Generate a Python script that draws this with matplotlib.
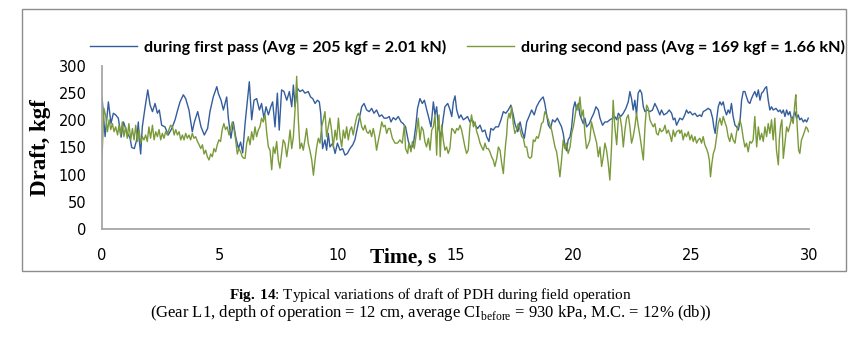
import matplotlib
matplotlib.use("Agg")
import matplotlib.pyplot as plt
from matplotlib.patches import Rectangle

# draft (kgf) vs time (s)
first_pass = [
    (0, 243), (0.13, 170), (0.27, 234), (0.38, 194), (0.48, 213), (0.58, 210), (0.69, 204), (0.76, 185),
    (0.81, 169), (0.91, 197), (1.05, 179), (1.19, 167), (1.26, 150), (1.37, 148), (1.47, 164), (1.54, 197),
    (1.58, 164), (1.64, 138), (1.71, 188), (1.82, 222), (1.94, 256), (2.04, 228), (2.14, 216), (2.25, 231),
    (2.35, 213), (2.43, 219), (2.53, 191), (2.67, 188), (2.81, 173), (2.96, 185), (3.10, 201), (3.21, 219),
    (3.31, 234), (3.45, 247), (3.55, 240), (3.69, 219), (3.83, 179), (3.92, 197), (4.06, 216), (4.20, 188),
    (4.34, 173), (4.48, 185), (4.58, 216), (4.72, 243), (4.87, 262), (4.94, 249), (5.05, 237), (5.15, 219),
    (5.29, 243), (5.36, 204), (5.47, 167), (5.57, 197), (5.67, 170), (5.79, 148), (5.88, 160), (5.97, 140),
    (6.07, 194), (6.25, 271), (6.35, 201), (6.45, 237), (6.56, 240), (6.68, 219), (6.77, 231), (6.87, 204),
    (6.96, 225), (7.06, 210), (7.16, 225), (7.24, 234), (7.34, 188), (7.44, 250), (7.52, 182), (7.62, 256),
    (7.72, 253), (7.84, 237), (7.95, 253), (8.05, 225), (8.12, 265), (8.19, 225), (8.29, 259), (8.40, 253),
    (8.51, 256), (8.61, 250), (8.75, 253), (8.85, 243), (8.94, 240), (9.04, 231), (9.14, 237), (9.22, 234),
    (9.28, 213), (9.36, 148), (9.46, 164), (9.53, 145), (9.60, 176), (9.67, 151), (9.79, 158), (9.89, 139),
    (9.99, 158), (10.10, 145), (10.21, 148), (10.31, 136), (10.41, 139), (10.52, 148), (10.64, 155),
    (10.73, 164), (10.83, 185), (10.92, 204), (11.02, 225), (11.12, 231), (11.23, 219), (11.34, 216),
    (11.44, 222), (11.54, 213), (11.65, 219), (11.77, 207), (11.87, 210), (11.97, 204), (12.08, 204),
    (12.19, 207), (12.26, 197), (12.36, 205), (12.46, 201), (12.57, 207), (12.69, 197), (12.78, 194),
    (12.88, 188), (13.00, 161), (13.11, 148), (13.21, 155), (13.31, 188), (13.39, 222), (13.49, 240),
    (13.59, 231), (13.68, 237), (13.78, 219), (13.87, 204), (13.96, 188), (14.06, 234), (14.13, 210),
    (14.20, 225), (14.27, 188), (14.38, 170), (14.48, 204), (14.55, 225), (14.67, 231), (14.77, 219),
    (14.84, 207), (14.91, 234), (14.98, 245), (15.05, 219), (15.15, 204), (15.23, 210), (15.33, 201),
    (15.43, 204), (15.51, 207), (15.61, 197), (15.71, 201), (15.83, 191), (15.94, 185), (16.04, 191),
    (16.14, 179), (16.25, 182), (16.32, 170), (16.42, 161), (16.50, 185), (16.60, 182), (16.70, 188),
    (16.82, 188), (16.93, 201), (17.03, 216), (17.13, 213), (17.24, 219), (17.35, 228), (17.45, 210),
    (17.52, 194), (17.64, 179), (17.74, 197), (17.83, 179), (17.92, 167), (18.02, 197), (18.12, 207),
    (18.23, 219), (18.34, 210), (18.44, 225), (18.55, 234), (18.65, 240), (18.72, 243), (18.79, 231),
    (18.87, 210), (18.94, 191), (19.03, 185), (19.12, 201), (19.22, 197), (19.32, 204), (19.43, 194),
    (19.50, 188), (19.57, 176), (19.64, 155), (19.71, 144), (19.78, 164), (19.86, 170), (19.93, 188),
    (20.00, 222), (20.07, 234), (20.14, 219), (20.21, 231), (20.28, 210), (20.42, 194), (20.49, 204),
    (20.56, 188), (20.68, 194), (20.77, 204), (20.87, 213), (20.96, 225), (21.06, 219), (21.13, 204),
    (21.24, 191), (21.34, 197), (21.44, 197), (21.55, 201), (21.67, 204), (21.76, 207), (21.84, 201),
    (21.91, 213), (22.01, 207), (22.12, 213), (22.23, 222), (22.33, 234), (22.40, 253), (22.47, 240),
    (22.54, 219), (22.61, 237), (22.68, 210), (22.75, 250), (22.83, 256), (22.90, 250), (22.97, 225),
    (23.04, 216), (23.14, 219), (23.25, 216), (23.36, 219), (23.46, 231), (23.56, 222), (23.67, 210),
    (23.74, 219), (23.84, 210), (23.96, 213), (24.07, 219), (24.17, 213), (24.24, 201), (24.31, 204),
    (24.38, 191), (24.49, 201), (24.52, 204), (24.63, 201), (24.73, 210), (24.80, 219), (24.88, 213),
    (24.95, 216), (25.06, 210), (25.16, 213), (25.26, 207), (25.37, 210), (25.44, 207), (25.51, 216),
    (25.63, 219), (25.72, 222), (25.82, 219), (25.91, 204), (25.96, 188), (26.02, 176), (26.08, 201),
    (26.15, 225), (26.22, 234), (26.29, 228), (26.36, 234), (26.43, 219), (26.50, 210), (26.57, 219),
    (26.64, 213), (26.71, 231), (26.78, 207), (26.86, 191), (26.93, 188), (27.00, 182), (27.07, 197),
    (27.14, 237), (27.21, 253), (27.28, 253), (27.35, 243), (27.42, 234), (27.49, 231), (27.56, 240),
    (27.63, 247), (27.70, 253), (27.78, 243), (27.85, 256), (27.92, 237), (27.99, 250), (28.06, 253),
    (28.13, 259), (28.20, 262), (28.27, 237), (28.34, 219), (28.41, 225), (28.48, 219), (28.60, 222),
    (28.70, 216), (28.77, 219), (28.84, 213), (28.91, 219), (28.98, 207), (29.05, 219), (29.12, 210),
    (29.19, 216), (29.26, 201), (29.33, 207), (29.40, 216), (29.47, 204), (29.54, 210), (29.61, 201),
    (29.68, 204), (29.76, 197), (29.83, 201), (29.90, 197), (29.97, 204),
]

second_pass = [
    (0, 133), (0.08, 222), (0.16, 207), (0.23, 179), (0.30, 201), (0.37, 183), (0.44, 194), (0.51, 179),
    (0.58, 188), (0.66, 173), (0.72, 191), (0.79, 173), (0.86, 197), (0.93, 170), (1.00, 188), (1.07, 167),
    (1.14, 194), (1.22, 164), (1.29, 185), (1.36, 164), (1.43, 191), (1.50, 161), (1.57, 183), (1.64, 158),
    (1.71, 170), (1.78, 164), (1.85, 173), (1.92, 161), (1.99, 188), (2.06, 167), (2.14, 191), (2.21, 164),
    (2.28, 179), (2.35, 170), (2.42, 183), (2.49, 164), (2.56, 176), (2.63, 167), (2.70, 179), (2.77, 173),
    (2.84, 183), (2.91, 191), (2.99, 188), (3.06, 173), (3.13, 183), (3.20, 173), (3.27, 179), (3.34, 164),
    (3.41, 173), (3.48, 164), (3.55, 176), (3.62, 167), (3.69, 173), (3.76, 164), (3.83, 176), (3.90, 167),
    (3.97, 170), (4.05, 161), (4.12, 155), (4.19, 148), (4.26, 155), (4.33, 138), (4.40, 145), (4.47, 133),
    (4.54, 127), (4.61, 138), (4.68, 133), (4.75, 148), (4.82, 142), (4.89, 155), (4.96, 164), (5.03, 161),
    (5.10, 183), (5.17, 194), (5.24, 183), (5.31, 188), (5.39, 173), (5.46, 185), (5.53, 197), (5.60, 183),
    (5.67, 164), (5.74, 138), (5.81, 148), (5.88, 142), (5.95, 133), (6.02, 130), (6.07, 130), (6.14, 158),
    (6.21, 170), (6.28, 155), (6.35, 179), (6.42, 164), (6.49, 188), (6.56, 170), (6.63, 182), (6.70, 188),
    (6.77, 204), (6.84, 197), (6.92, 210), (6.99, 176), (7.06, 151), (7.13, 145), (7.20, 109), (7.27, 151),
    (7.34, 139), (7.41, 161), (7.48, 127), (7.55, 112), (7.62, 139), (7.69, 164), (7.76, 158), (7.84, 133),
    (7.91, 155), (7.98, 182), (8.05, 148), (8.12, 170), (8.19, 219), (8.26, 281), (8.33, 201), (8.40, 148),
    (8.47, 158), (8.54, 145), (8.61, 164), (8.68, 185), (8.75, 158), (8.82, 145), (8.90, 127), (8.97, 99),
    (9.04, 127), (9.11, 151), (9.18, 167), (9.25, 158), (9.32, 188), (9.39, 201), (9.46, 216), (9.53, 170),
    (9.60, 188), (9.67, 204), (9.74, 182), (9.81, 151), (9.89, 182), (9.96, 164), (10.03, 204), (10.10, 170),
    (10.17, 151), (10.24, 182), (10.31, 167), (10.38, 188), (10.45, 164), (10.52, 182), (10.59, 188),
    (10.66, 173), (10.73, 191), (10.81, 207), (10.88, 213), (10.95, 204), (11.02, 188), (11.09, 182),
    (11.16, 191), (11.23, 179), (11.30, 176), (11.37, 182), (11.44, 170), (11.51, 185), (11.58, 170),
    (11.65, 145), (11.73, 164), (11.80, 179), (11.87, 197), (11.94, 188), (12.01, 191), (12.08, 176),
    (12.15, 185), (12.22, 185), (12.32, 167), (12.43, 158), (12.54, 158), (12.64, 164), (12.74, 158),
    (12.83, 191), (12.88, 148), (12.97, 139), (13.02, 158), (13.11, 142), (13.17, 161), (13.25, 148),
    (13.35, 179), (13.42, 204), (13.49, 164), (13.56, 188), (13.63, 182), (13.70, 161), (13.77, 151),
    (13.85, 167), (13.92, 145), (13.99, 182), (14.06, 188), (14.13, 210), (14.20, 136), (14.24, 188),
    (14.30, 210), (14.35, 133), (14.41, 191), (14.48, 164), (14.55, 145), (14.62, 151), (14.69, 139),
    (14.76, 148), (14.84, 185), (14.91, 182), (14.98, 176), (15.05, 185), (15.12, 182), (15.19, 191),
    (15.26, 182), (15.33, 167), (15.40, 151), (15.47, 139), (15.54, 145), (15.61, 188), (15.68, 210),
    (15.76, 188), (15.83, 197), (15.90, 179), (15.97, 170), (16.04, 158), (16.11, 151), (16.18, 145),
    (16.25, 158), (16.32, 148), (16.39, 148), (16.46, 142), (16.53, 133), (16.60, 127), (16.67, 115),
    (16.75, 130), (16.82, 151), (16.89, 145), (16.96, 121), (17.03, 102), (17.07, 127), (17.13, 158),
    (17.17, 173), (17.21, 201), (17.27, 213), (17.32, 204), (17.38, 225), (17.45, 194), (17.52, 176),
    (17.59, 182), (17.66, 194), (17.74, 182), (17.81, 170), (17.88, 167), (17.95, 151), (18.02, 151),
    (18.09, 133), (18.16, 130), (18.23, 133), (18.30, 164), (18.37, 161), (18.44, 170), (18.51, 167),
    (18.58, 179), (18.65, 194), (18.72, 197), (18.79, 216), (18.86, 210), (18.94, 201), (19.01, 191),
    (19.08, 182), (19.15, 167), (19.22, 151), (19.29, 142), (19.36, 121), (19.43, 96), (19.50, 127),
    (19.57, 164), (19.64, 148), (19.71, 158), (19.78, 139), (19.86, 151), (19.93, 176), (20.00, 188),
    (20.07, 207), (20.14, 228), (20.21, 219), (20.28, 243), (20.35, 207), (20.42, 219), (20.49, 176),
    (20.56, 148), (20.63, 155), (20.70, 164), (20.77, 197), (20.85, 182), (20.92, 170), (20.99, 158),
    (21.06, 133), (21.13, 151), (21.20, 115), (21.27, 133), (21.34, 158), (21.41, 145), (21.48, 121),
    (21.55, 90), (21.62, 151), (21.69, 237), (21.76, 188), (21.84, 155), (21.91, 204), (21.98, 207),
    (22.05, 188), (22.12, 151), (22.19, 182), (22.26, 204), (22.33, 210), (22.40, 188), (22.47, 158),
    (22.54, 170), (22.61, 188), (22.68, 213), (22.75, 191), (22.83, 170), (22.90, 148), (22.97, 127),
    (23.04, 188), (23.11, 228), (23.18, 222), (23.25, 201), (23.32, 194), (23.39, 188), (23.46, 194),
    (23.53, 176), (23.60, 173), (23.67, 185), (23.74, 179), (23.82, 182), (23.89, 191), (23.96, 176),
    (24.03, 182), (24.10, 173), (24.17, 161), (24.24, 182), (24.31, 170), (24.38, 179), (24.49, 182),
    (24.52, 176), (24.59, 182), (24.66, 164), (24.73, 176), (24.80, 170), (24.88, 179), (24.95, 164),
    (25.02, 173), (25.09, 161), (25.16, 170), (25.23, 158), (25.30, 164), (25.37, 167), (25.44, 158),
    (25.51, 170), (25.58, 155), (25.65, 148), (25.72, 139), (25.77, 127), (25.82, 96), (25.88, 121),
    (25.94, 139), (26.01, 148), (26.08, 170), (26.15, 194), (26.22, 204), (26.29, 191), (26.36, 207),
    (26.43, 197), (26.50, 188), (26.57, 170), (26.64, 161), (26.71, 176), (26.78, 164), (26.86, 158),
    (26.93, 179), (27.00, 191), (27.07, 201), (27.14, 188), (27.21, 167), (27.28, 151), (27.35, 158),
    (27.42, 142), (27.49, 161), (27.56, 158), (27.63, 164), (27.70, 207), (27.78, 151), (27.85, 188),
    (27.92, 164), (27.99, 176), (28.06, 161), (28.13, 188), (28.20, 170), (28.27, 194), (28.34, 176),
    (28.41, 201), (28.48, 164), (28.55, 204), (28.62, 145), (28.70, 118), (28.74, 164), (28.79, 188),
    (28.85, 201), (28.91, 130), (28.98, 158), (29.05, 188), (29.12, 179), (29.19, 191), (29.26, 204),
    (29.33, 194), (29.40, 231), (29.44, 247), (29.50, 188), (29.56, 145), (29.61, 139), (29.68, 164),
    (29.76, 173), (29.83, 182), (29.87, 188), (29.93, 185), (29.98, 179),
]

labels = ["during first pass (Avg = 205 kgf = 2.01 kN)",
          "during second pass (Avg = 169 kgf = 1.66 kN)"]
x_ticks = [0, 5, 10, 15, 20, 25, 30]
y_ticks = [0, 50, 100, 150, 200, 250, 300]

plt.rcParams["mathtext.fontset"] = "custom"
plt.rcParams["mathtext.rm"] = "Liberation Serif"
plt.rcParams["mathtext.bf"] = "Liberation Serif:bold"


def plot_graph():
    fig = plt.figure(figsize=(8.61, 3.43), dpi=100)
    fig.patches.append(Rectangle((0.0256, 0.21), 0.957, 0.764, transform=fig.transFigure,
                                 fill=False, edgecolor="#8c8c8c", linewidth=1))

    ax = fig.add_axes([0.1185, 0.3324, 0.8211, 0.4752])
    t1, d1 = zip(*first_pass)
    t2, d2 = zip(*second_pass)
    ax.plot(t1, d1, color="#345d9c", linewidth=1, label=labels[0])
    ax.plot(t2, d2, color="#7a9a3a", linewidth=1, label=labels[1])

    ax.set_xlim(0, 30)
    ax.set_ylim(0, 300)
    ax.set_xticks(x_ticks)
    ax.set_yticks(y_ticks)
    for side in ["top", "right"]:
        ax.spines[side].set_visible(False)
    for side in ["left", "bottom"]:
        ax.spines[side].set_color("#a6a6a6")
        ax.spines[side].set_linewidth(1.3)
    ax.tick_params(axis="both", length=0, labelsize=10.5, colors="black")
    ax.tick_params(axis="y", pad=11)
    ax.tick_params(axis="x", pad=14)

    fig.text(0.047, 0.57, "Draft, kgf", rotation=90, ha="center", va="center",
             family="Liberation Serif", fontweight="bold", fontsize=16.5)
    fig.text(0.468, 0.25, "Time, s", ha="center", va="center",
             family="Liberation Serif", fontweight="bold", fontsize=15.5)

    fig.legend(loc="center", bbox_to_anchor=(0.543, 0.862), ncol=2, frameon=False,
               prop={"family": "Lato", "weight": "bold", "size": 11.6},
               handlelength=2.9, handletextpad=0.45, columnspacing=1.3)

    fig.text(0.5, 0.140, r"$\bf{Fig.\,14}$: Typical variations of draft of PDH during field operation",
             ha="center", va="center", family="Liberation Serif", fontsize=11)
    fig.text(0.5, 0.087, r"(Gear L1, depth of operation = 12 cm, average CI$_{\rm before}$ = 930 kPa, M.C. = 12% (db))",
             ha="center", va="center", family="Liberation Serif", fontsize=12)

    fig.savefig("out.png", dpi=100)


def main():
    plot_graph()


if __name__ == "__main__":
    main()
